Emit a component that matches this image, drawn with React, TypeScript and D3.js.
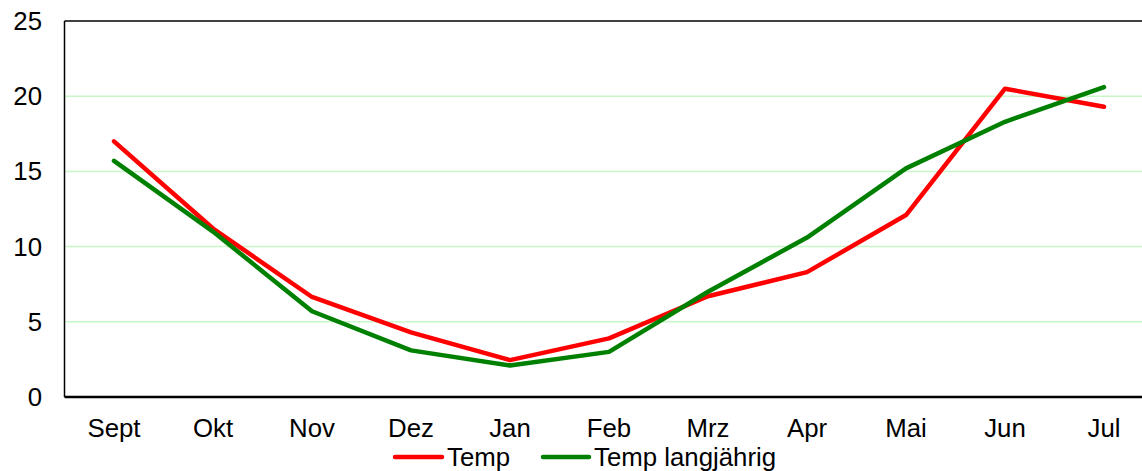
import React from "react";
import * as d3 from "d3";

const months = ["Sept", "Okt", "Nov", "Dez", "Jan", "Feb", "Mrz", "Apr", "Mai", "Jun", "Jul"];
const temp = [17.0, 11.2, 6.65, 4.3, 2.45, 3.9, 6.7, 8.3, 12.1, 20.5, 19.3];
const tempLang = [15.7, 11.0, 5.7, 3.1, 2.1, 3.0, 7.0, 10.6, 15.2, 18.3, 20.6];
const yTicks = [0, 5, 10, 15, 20, 25];

const W = 1142;
const H = 471;
const left = 64.5;
const right = 1153.5;
const top = 21;
const bottom = 397;
const font = "Arial, 'Liberation Sans', sans-serif";
const fs = 25.8;

export default function App() {
  const x = d3.scaleBand<string>().domain(months).range([left, right]).padding(0);
  const y = d3.scaleLinear().domain([0, 25]).range([bottom, top]);
  const cx = (m: string) => (x(m) as number) + x.bandwidth() / 2;
  const line = d3
    .line<number>()
    .x((_, i) => cx(months[i]))
    .y((d) => y(d));

  return (
    <svg width={W} height={H} style={{ position: "absolute", left: 0, top: 0, display: "block" }}>
      <rect x={0} y={0} width={W} height={H} fill="#fff" />
      {yTicks.slice(1, -1).map((t) => (
        <line key={t} x1={left} x2={right} y1={y(t)} y2={y(t)} stroke="#c8f8c8" strokeWidth={1.5} />
      ))}
      <line x1={left} x2={right} y1={top} y2={top} stroke="#000" strokeWidth={1.5} />
      <line x1={left} x2={left} y1={top} y2={bottom} stroke="#000" strokeWidth={1.5} />
      <line x1={left} x2={right} y1={bottom} y2={bottom} stroke="#000" strokeWidth={2.5} />
      {yTicks.map((t) => (
        <text key={t} x={42} y={y(t)} dy="0.35em" textAnchor="end" fontFamily={font} fontSize={fs} fill="#000">
          {t}
        </text>
      ))}
      {months.map((m) => (
        <text key={m} x={cx(m)} y={437} textAnchor="middle" fontFamily={font} fontSize={fs} fill="#000">
          {m}
        </text>
      ))}
      <path d={line(temp) as string} fill="none" stroke="#ff0000" strokeWidth={4.5} strokeLinejoin="round" strokeLinecap="round" />
      <path d={line(tempLang) as string} fill="none" stroke="#008000" strokeWidth={4.5} strokeLinejoin="round" strokeLinecap="round" />
      <g>
        <line x1={395} x2={442} y1={457} y2={457} stroke="#ff0000" strokeWidth={4.5} strokeLinecap="round" />
        <text x={447} y={466} fontFamily={font} fontSize={fs} fill="#000">Temp</text>
        <line x1={543} x2={589} y1={457} y2={457} stroke="#008000" strokeWidth={4.5} strokeLinecap="round" />
        <text x={594} y={466} fontFamily={font} fontSize={fs} fill="#000">Temp langjährig</text>
      </g>
    </svg>
  );
}
